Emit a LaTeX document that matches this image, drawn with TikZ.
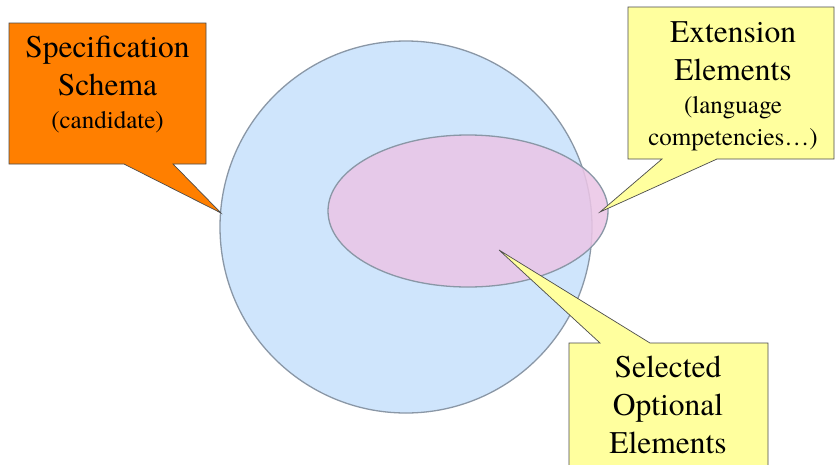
\documentclass[tikz,border=0pt]{standalone}
\usepackage{fontspec}
\setmainfont{TeX Gyre Termes}
\definecolor{circfill}{HTML}{CFE5FC}
\definecolor{circdraw}{HTML}{8A97A6}
\definecolor{ellfill}{HTML}{EBC5E6}
\definecolor{orangebox}{HTML}{FF7F00}
\definecolor{yellowbox}{HTML}{FFFF9E}
\tikzset{
  calloutbox/.style={draw=black!70, line width=0.7pt, line join=miter},
  bigtxt/.style={font=\fontsize{31.5}{38}\selectfont, anchor=base, inner sep=0pt},
  smalltxt/.style={font=\fontsize{25}{30}\selectfont, anchor=base, inner sep=0pt},
}
\begin{document}
\begin{tikzpicture}[x=1pt,y=-1pt]
\useasboundingbox (0,0) rectangle (837,464);
\clip (0,0) rectangle (837,464);
\fill[white] (0,0) rectangle (837,464);
% main circle
\draw[fill=circfill, draw=circdraw, line width=1.3pt] (406,227) circle [radius=186];
% ellipse
\draw[fill=ellfill, fill opacity=0.85, draw=circdraw, line width=1.3pt] (468,211) ellipse [x radius=140, y radius=76];
% callouts
\coordinate (tipA) at (221,213);
\coordinate (tipB) at (600,212);
\coordinate (tipC) at (499,250);
\draw[calloutbox, fill=orangebox] (9,23) -- (206,23) -- (206,164) -- (173,164) -- (tipA) -- (124,164) -- (9,164) -- cycle;
\draw[calloutbox, fill=yellowbox] (628,7) -- (834,7) -- (834,159) -- (717,159) -- (tipB) -- (662,159) -- (628,159) -- cycle;
\draw[calloutbox, fill=yellowbox] (569,343) -- (600,343) -- (tipC) -- (650,343) -- (768,343) -- (768,480) -- (569,480) -- cycle;
% texts
\node[bigtxt] (s1) at (107.5,57) {Specification};
\node[bigtxt] (s2) at (107.5,95) {Schema};
\node[smalltxt] (s3) at (107.5,128) {(candidate)};
\node[bigtxt] (e1) at (733,42) {Extension};
\node[bigtxt] (e2) at (733,80) {Elements};
\node[smalltxt] (e3) at (733,113) {(language};
\node[smalltxt] (e4) at (733,145) {competencies…)};
\node[bigtxt] (o1) at (668,377) {Selected};
\node[bigtxt] (o2) at (668,415) {Optional};
\node[bigtxt] (o3) at (668,453) {Elements};
\end{tikzpicture}
\end{document}
